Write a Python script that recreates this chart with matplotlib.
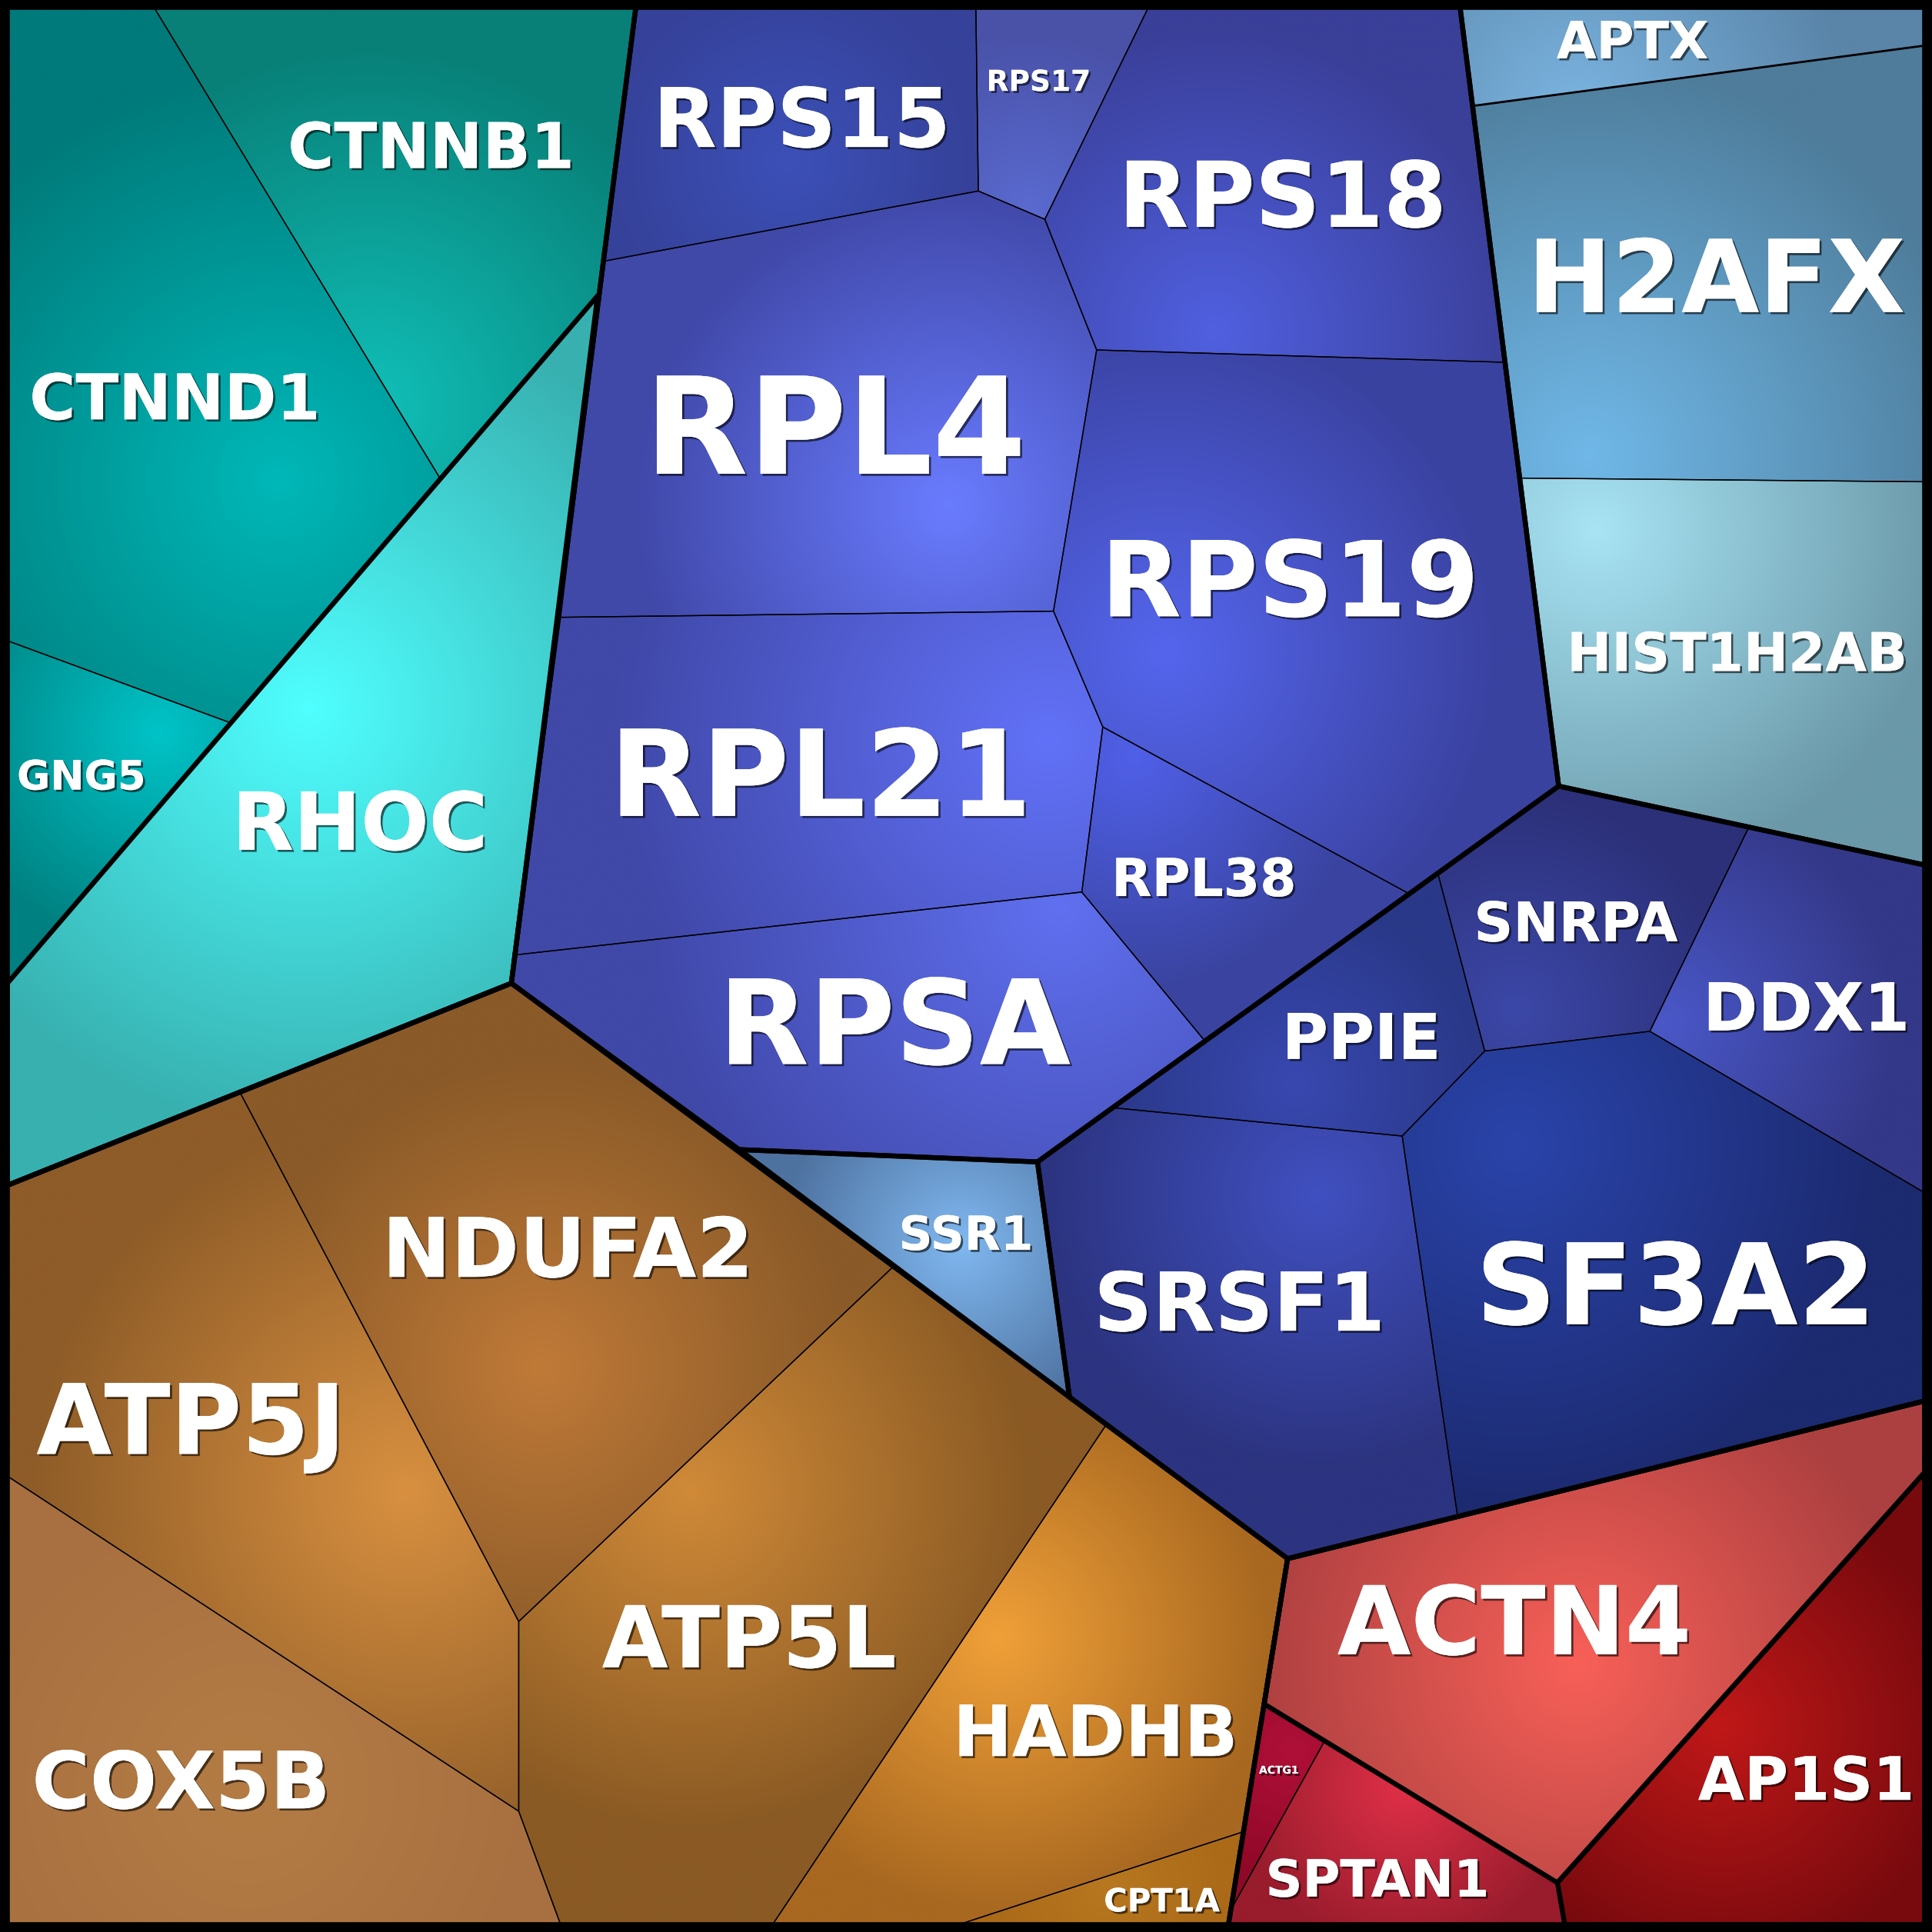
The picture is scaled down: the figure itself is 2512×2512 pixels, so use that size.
import numpy as np
import matplotlib
matplotlib.use("Agg")
import matplotlib.pyplot as plt
from matplotlib.patches import Polygon
from matplotlib.colors import to_rgb
import matplotlib.patheffects as pe

# ---- data (coordinates in a 0..1568 layout space, y downward) ----
names = ["CTNNB1", "CTNND1", "GNG5", "RHOC",
         "RPS15", "RPS17", "RPS18", "RPL4", "RPS19", "RPL21", "RPL38", "RPSA",
         "SSR1",
         "SNRPA", "DDX1", "PPIE", "SRSF1", "SF3A2",
         "APTX", "H2AFX", "HIST1H2AB",
         "NDUFA2", "ATP5J", "COX5B", "ATP5L", "HADHB", "CPT1A",
         "ACTN4", "AP1S1", "ACTG1", "SPTAN1"]

cells = [
    [(125, 6), (516, 6), (485, 240), (357, 388)],
    [(6, 6), (125, 6), (357, 388), (188, 587), (6, 520)],
    [(6, 520), (188, 587), (6, 798)],
    [(485, 240), (415, 798), (6, 962), (6, 798)],
    [(516, 6), (792, 6), (794, 155), (490, 212)],
    [(792, 6), (932, 6), (848, 178), (794, 155)],
    [(932, 6), (1185, 6), (1220, 294), (890, 284), (848, 178)],
    [(490, 212), (794, 155), (848, 178), (890, 284), (855, 496), (455, 501)],
    [(890, 284), (1220, 294), (1265, 638), (1143, 725), (895, 590), (855, 496)],
    [(455, 501), (855, 496), (895, 590), (878, 724), (418, 775)],
    [(895, 590), (1143, 725), (978, 845), (878, 724)],
    [(418, 775), (878, 724), (978, 845), (842, 943), (600, 933), (415, 798)],
    [(600, 933), (842, 943), (868, 1134)],
    [(1167, 709), (1265, 638), (1419, 672), (1339, 837), (1205, 853)],
    [(1419, 672), (1562, 702), (1562, 968), (1339, 837)],
    [(1167, 709), (1205, 853), (1138, 922), (903, 899)],
    [(842, 943), (903, 899), (1138, 922), (1183, 1231), (1045, 1265), (868, 1134)],
    [(1138, 922), (1205, 853), (1339, 837), (1562, 968), (1562, 1137), (1183, 1231)],
    [(1185, 6), (1562, 6), (1562, 37), (1195, 86)],
    [(1195, 86), (1562, 37), (1562, 391), (1234, 388)],
    [(1234, 388), (1562, 391), (1562, 702), (1265, 638)],
    [(195, 887), (415, 798), (725, 1028), (421, 1316)],
    [(6, 962), (195, 887), (421, 1316), (421, 1470), (6, 1198)],
    [(6, 1198), (421, 1470), (455, 1562), (6, 1562)],
    [(421, 1316), (725, 1028), (898, 1156), (627, 1562), (455, 1562), (421, 1470)],
    [(898, 1156), (1045, 1265), (1008, 1487), (778, 1562), (627, 1562)],
    [(778, 1562), (1008, 1487), (997, 1562)],
    [(1045, 1265), (1562, 1137), (1562, 1195), (1264, 1528), (1026, 1383)],
    [(1562, 1195), (1562, 1562), (1270, 1562), (1264, 1528)],
    [(1026, 1383), (1075, 1413), (999, 1550)],
    [(1075, 1413), (1264, 1528), (1270, 1562), (997, 1562), (999, 1550)],
]

label_xy = [(350, 117), (142, 321), (66, 628), (292, 665),
            (651, 94), (843, 65), (1041, 156), (678, 343), (1047, 468), (666, 625), (977, 711), (726, 827),
            (784, 1000),
            (1279, 747), (1466, 816), (1105, 840), (1006, 1055), (1360, 1040),
            (1325, 31), (1393, 222), (1410, 528),
            (461, 1011), (155, 1150), (147, 1443), (608, 1327), (889, 1403), (943, 1541),
            (1229, 1313), (1466, 1442), (1038, 1436), (1118, 1523)]

label_sizes = [59, 59, 38, 75,
               77, 27, 85, 126, 98, 112, 49, 110,
               44,
               51, 62, 59, 76, 105,
               48, 94, 50,
               77, 91, 74, 80, 66, 30,
               89, 56, 10, 48]

glow_xy = [(300, 330), (225, 390), (130, 595), (250, 575),
           (640, 130), (835, 170), (985, 270), (770, 410), (945, 530), (850, 600), (920, 615), (860, 735),
           (780, 1010),
           (1230, 820), (1350, 830), (1050, 880), (1070, 970), (1230, 930),
           (1280, 90), (1290, 370), (1295, 430),
           (440, 1110), (330, 1210), (200, 1450), (560, 1210), (810, 1330), (900, 1530),
           (1280, 1350), (1395, 1400), (1050, 1420), (1140, 1450)]

center_colors = ["#10c0b8", "#00b8b8", "#00c4c8", "#50ffff",
                 "#3c50b8", "#5a6ad0", "#5060e0", "#6a7cff", "#5566ee", "#6272f8", "#5060e8", "#6070f0",
                 "#80b8f0",
                 "#3c48a8", "#4a58c8", "#3848b0", "#4050c0", "#2a44aa",
                 "#7ab4e0", "#70b8e8", "#a8e4f4",
                 "#c07a38", "#d89040", "#b47c44", "#d08a38", "#f0a038", "#b87820",
                 "#f86058", "#c01818", "#b01038", "#e03048"]

edge_colors = ["#088078", "#007a7a", "#008080", "#38b0b0",
               "#36429a", "#4a52a8", "#3a3f98", "#4048a8", "#3a42a0", "#4048a8", "#3a44a0", "#4048a8",
               "#4e72a0",
               "#2c3078", "#343888", "#2a3888", "#2c3480", "#1c2a70",
               "#5a84a8", "#4e7c9a", "#6a98a8",
               "#8a5a28", "#8e5c28", "#a87040", "#8a5a24", "#a86820", "#aa6a18",
               "#ac4040", "#780a0e", "#900828", "#981c2c"]

group_outlines = [
    [(6, 6), (516, 6), (415, 798), (6, 962)],
    [(485, 240), (415, 798), (6, 962), (6, 798)],
    [(6, 962), (415, 798), (1045, 1265), (997, 1562), (6, 1562)],
    [(516, 6), (1185, 6), (1265, 638), (842, 943), (600, 933), (415, 798)],
    [(600, 933), (842, 943), (868, 1134)],
    [(842, 943), (1265, 638), (1562, 702), (1562, 1137), (1045, 1265), (868, 1134)],
    [(1185, 6), (1562, 6), (1562, 702), (1265, 638)],
    [(1045, 1265), (1562, 1137), (1562, 1562), (997, 1562)],
    [(1045, 1265), (1562, 1137), (1562, 1195), (1264, 1528), (1026, 1383)],
    [(1562, 1195), (1562, 1562), (1270, 1562), (1264, 1528)],
]

SIZE = 1568

fig = plt.figure(figsize=(25.12, 25.12), dpi=100, facecolor="black")
ax = fig.add_axes([0, 0, 1, 1])
ax.set_xlim(0, SIZE)
ax.set_ylim(SIZE, 0)
ax.axis("off")
ax.set_facecolor("black")

for poly, gc, c0, c1 in zip(cells, glow_xy, center_colors, edge_colors):
    pts = np.array(poly, dtype=float)
    x0, y0 = pts.min(axis=0)
    x1, y1 = pts.max(axis=0)
    nx = int((x1 - x0) * 1.6) + 4
    ny = int((y1 - y0) * 1.6) + 4
    xs = np.linspace(x0, x1, nx)
    ys = np.linspace(y0, y1, ny)
    X, Y = np.meshgrid(xs, ys)
    d = np.hypot(X - gc[0], Y - gc[1])
    R = np.max(np.hypot(pts[:, 0] - gc[0], pts[:, 1] - gc[1])) * 0.75
    t = np.clip(d / R, 0, 1)[..., None]
    a = np.array(to_rgb(c0))
    b = np.array(to_rgb(c1))
    img = a * (1 - t) + b * t
    patch = Polygon(pts, closed=True, facecolor="none", edgecolor="none")
    ax.add_patch(patch)
    im = ax.imshow(img, extent=(x0, x1, y1, y0), origin="upper",
                   interpolation="bilinear", zorder=1)
    im.set_clip_path(patch)
    ax.add_patch(Polygon(pts, closed=True, facecolor="none",
                         edgecolor="black", lw=1.0, zorder=3))

for poly in group_outlines:
    ax.add_patch(Polygon(np.array(poly, float), closed=True, facecolor="none",
                         edgecolor="black", lw=4.6, joinstyle="miter", zorder=4))

ax.add_patch(Polygon(np.array([(1195, 86), (1562, 37)], float), closed=False,
                     facecolor="none", edgecolor="black", lw=2.0, zorder=4))

ax.add_patch(Polygon(np.array([(3, 3), (1565, 3), (1565, 1565), (3, 1565)], float),
                     closed=True, facecolor="none", edgecolor="black", lw=7, zorder=5))

shadow = [pe.withSimplePatchShadow(offset=(2, -2), shadow_rgbFace="black", alpha=0.6),
          pe.Normal()]
for name, (lx, ly), fs in zip(names, label_xy, label_sizes):
    ax.text(lx, ly, name, fontsize=fs, fontweight="bold", color="white",
            family="DejaVu Sans", ha="center", va="center_baseline", zorder=6,
            path_effects=shadow)

fig.savefig("out.png", dpi=100, facecolor="black")
